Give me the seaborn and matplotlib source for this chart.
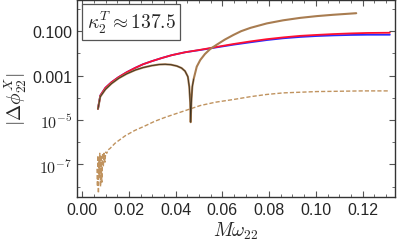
import numpy as np
import pandas as pd
import seaborn as sns
import matplotlib
matplotlib.use("Agg")
import matplotlib.pyplot as plt
from matplotlib.ticker import FixedLocator, MultipleLocator, NullFormatter

# values; y stored as log10 of |dphi|
x_red = [0.0067, 0.0077, 0.0099, 0.0125, 0.0154, 0.019, 0.0227, 0.026, 0.0298, 0.034,
         0.0383, 0.044, 0.051, 0.058, 0.0646, 0.072, 0.079, 0.086, 0.0933, 0.10,
         0.1075, 0.115, 0.122, 0.1317]
ly_red = [-4.5, -3.9, -3.55, -3.3, -3.08, -2.85, -2.65, -2.49, -2.35, -2.21,
          -2.08, -1.95, -1.83, -1.70, -1.58, -1.46, -1.36, -1.28, -1.21, -1.17,
          -1.13, -1.10, -1.08, -1.07]

x_blue = [0.0067, 0.0077, 0.0099, 0.0125, 0.0154, 0.019, 0.0227, 0.026, 0.0298, 0.034,
          0.0383, 0.044, 0.051, 0.058, 0.0646, 0.072, 0.079, 0.086, 0.0933, 0.10,
          0.1075, 0.115, 0.122, 0.1317]
ly_blue = [-4.5, -3.9, -3.55, -3.3, -3.08, -2.85, -2.65, -2.49, -2.35, -2.21,
           -2.08, -1.95, -1.84, -1.72, -1.61, -1.50, -1.40, -1.32, -1.26, -1.22,
           -1.19, -1.17, -1.16, -1.16]

x_brown = [0.0067, 0.0077, 0.0099, 0.0125, 0.0156, 0.019, 0.0227, 0.026, 0.0298, 0.033,
           0.0355, 0.038, 0.0405, 0.0425, 0.044, 0.0452, 0.0458, 0.0462, 0.0464, 0.0467,
           0.0471, 0.0477, 0.049, 0.0505, 0.0525, 0.0548, 0.0577, 0.061, 0.0647, 0.068,
           0.072, 0.079, 0.086, 0.0933, 0.1005, 0.1075, 0.1173]
ly_brown = [-4.5, -3.95, -3.62, -3.36, -3.12, -2.92, -2.75, -2.64, -2.55, -2.5,
            -2.49, -2.51, -2.57, -2.66, -2.8, -3.05, -3.5, -4.2, -5.1, -4.2,
            -3.5, -3.15, -2.6, -2.3, -2.03, -1.8, -1.6, -1.38, -1.17, -1.0,
            -0.85, -0.65, -0.51, -0.40, -0.32, -0.26, -0.19]

x_dash = [0.0063, 0.0065, 0.0067, 0.0069, 0.0071, 0.0073, 0.0075, 0.0078, 0.0081, 0.0084,
          0.0087, 0.0090, 0.0093, 0.0097, 0.0100, 0.0105, 0.0110, 0.0119, 0.014, 0.0184,
          0.0225, 0.027, 0.031, 0.0355, 0.040, 0.044, 0.0505, 0.057, 0.0646, 0.072,
          0.079, 0.086, 0.0933, 0.1005, 0.1075, 0.12, 0.1317]
ly_dash = [-7.2, -8.0, -6.6, -8.3, -6.7, -7.6, -6.5, -8.0, -6.6, -7.8,
           -6.5, -7.1, -6.5, -6.9, -6.45, -6.5, -6.35, -6.28, -6.05, -5.71,
           -5.47, -5.26, -5.06, -4.88, -4.72, -4.58, -4.35, -4.2, -4.08, -3.95,
           -3.85, -3.78, -3.75, -3.72, -3.71, -3.69, -3.69]

sns.set_style("ticks")
plt.rcParams["font.family"] = ["Liberation Sans", "DejaVu Sans"]
plt.rcParams["mathtext.fontset"] = "cm"

fig = plt.figure(figsize=(3.99, 2.51), dpi=100)
ax = fig.add_axes([77 / 399, 1 - 198 / 251, 318 / 399, 197 / 251])

def draw(xs, lys, **kw):
    sns.lineplot(x=np.array(xs), y=10 ** np.array(lys), ax=ax, sort=False,
                 estimator=None, **kw)

draw(x_dash, ly_dash, color="#c0935f", lw=1.0, linestyle=(0, (3, 1.5)))
draw(x_blue, ly_blue, color="#2a2aff", lw=1.3)
draw(x_red, ly_red, color="#ff1030", lw=1.3)
draw(x_brown, ly_brown, color="#a87c50", lw=1.5)
draw(x_brown[:22], ly_brown[:22], color="#3a3020", lw=0.6)

ax.set_yscale("log")
ax.set_xlim(-0.00227, 0.1339)
ax.set_ylim(10 ** -8.47, 10 ** 0.405)

ax.xaxis.set_minor_locator(MultipleLocator(0.005))
ax.set_xticks([0.0, 0.02, 0.04, 0.06, 0.08, 0.10, 0.12])
ax.set_xticklabels(["0.00", "0.02", "0.04", "0.06", "0.08", "0.10", "0.12"])
ax.set_yticks([1e-7, 1e-5, 1e-3, 1e-1])
ax.set_yticklabels([r"$\mathsf{10^{-7}}$", r"$\mathsf{10^{-5}}$", "0.001", "0.100"])
ax.yaxis.set_minor_locator(FixedLocator([10.0 ** k for k in range(-8, 1)]))
ax.yaxis.set_minor_formatter(NullFormatter())
ax.tick_params(which="both", direction="in", top=True, right=True, labelsize=11.5,
               color="#555555")
ax.tick_params(which="major", length=4, width=0.8)
ax.tick_params(which="minor", length=2.5, width=0.6)
for s in ax.spines.values():
    s.set_linewidth(1.0)
    s.set_color("#333333")

ax.set_xlabel(r"$M\omega_{22}$", fontsize=14, labelpad=2)
ax.set_ylabel(r"$|\Delta\phi_{22}^{X}|$", fontsize=14, labelpad=2)

ax.text(0.03, 0.955, r"$\kappa_2^T \approx 137.5$", transform=ax.transAxes,
        fontsize=14, va="top", ha="left",
        bbox=dict(boxstyle="square,pad=0.25", fc="white", ec="#555555", lw=0.9))

fig.savefig("out.png", dpi=100)
